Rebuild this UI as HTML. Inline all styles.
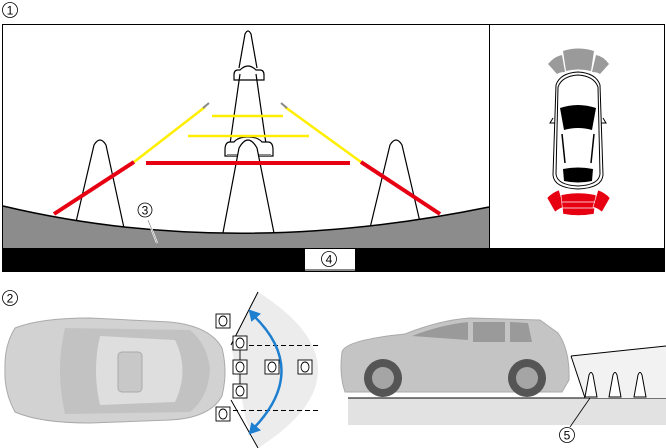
<!DOCTYPE html>
<html><head><style>
html,body{margin:0;padding:0;background:#fff;}
svg{display:block;font-family:"Liberation Sans",sans-serif;}
</style></head><body>
<svg width="666" height="448" viewBox="0 0 666 448" xmlns="http://www.w3.org/2000/svg">
<circle cx="10" cy="10" r="7.5" fill="#fff" stroke="#000" stroke-width="0.8"/>
<text x="10" y="14.5" font-size="12" text-anchor="middle">1</text>
<rect x="2.5" y="24.5" width="662" height="247" fill="#fff" stroke="#000" stroke-width="1"/>
<line x1="489.5" y1="24" x2="489.5" y2="248" stroke="#000" stroke-width="1"/>
<path d="M239,68 L245,34 Q248,28 251,34 L257,68" fill="none" stroke="#000" stroke-width="1.2"/>
<path d="M238,70 Q234,70 234,75 L234,80 L264,80 L264,75 Q264,70 260,70 L256,70 Q252,66 248,66 Q244,66 240,70 Z" fill="#fff" stroke="#000" stroke-width="1.2"/>
<path d="M240,74 L230,144 M256,74 L266,144" stroke="#000" stroke-width="1.2" fill="none"/>
<path d="M230,142 Q225,142 225,150 L225,156 L273,156 L273,150 Q273,142 268,142 L262,142 Q258,137 248,137 Q238,137 234,142 Z" fill="#fff" stroke="#000" stroke-width="1.2"/>
<line x1="227" y1="155" x2="271" y2="155" stroke="#888" stroke-width="2"/>
<path d="M222,238 L239,148 Q248,132 257,148 L275,238" fill="#fff" stroke="#000" stroke-width="1.2"/>
<path d="M76,222 L94,145 Q100,135 106,145 L124,228" fill="#fff" stroke="#000" stroke-width="1.2"/>
<path d="M370,228 L390,145 Q396,135 402,145 L420,222" fill="#fff" stroke="#000" stroke-width="1.2"/>
<line x1="212" y1="116" x2="283" y2="116" stroke="#ffee00" stroke-width="2.5"/>
<line x1="188" y1="136" x2="309" y2="136" stroke="#ffee00" stroke-width="2.5"/>
<line x1="146" y1="163" x2="350" y2="163" stroke="#e60012" stroke-width="4"/>
<line x1="205" y1="107" x2="134" y2="162" stroke="#ffee00" stroke-width="2.5"/>
<line x1="285" y1="107" x2="361" y2="162" stroke="#ffee00" stroke-width="2.5"/>
<line x1="209" y1="103" x2="203" y2="108" stroke="#888" stroke-width="2"/>
<line x1="281" y1="103" x2="287" y2="108" stroke="#888" stroke-width="2"/>
<line x1="134" y1="162" x2="54" y2="214" stroke="#e60012" stroke-width="4"/>
<line x1="361" y1="162" x2="440" y2="214" stroke="#e60012" stroke-width="4"/>
<path d="M3,206 Q230,260 489,207 L489,248 L3,248 Z" fill="#8c8c8c" stroke="none"/>
<path d="M3,206 Q230,260 489,207" fill="none" stroke="#000" stroke-width="1.5"/>
<line x1="148" y1="220" x2="157" y2="243" stroke="#fff" stroke-width="2"/>
<line x1="148" y1="220" x2="157" y2="243" stroke="#555" stroke-width="0.5"/>
<circle cx="145" cy="210" r="7" fill="#fff" stroke="#000" stroke-width="0.8"/>
<text x="145" y="214.5" font-size="12" text-anchor="middle">3</text>
<rect x="3" y="248" width="662" height="23" fill="#000"/>
<rect x="305" y="249" width="50" height="21" fill="#fff"/>
<line x1="305" y1="270" x2="355" y2="270" stroke="#888" stroke-width="2"/>
<circle cx="329" cy="259" r="7.5" fill="#fff" stroke="#000" stroke-width="0.8"/>
<text x="329" y="263.5" font-size="12" text-anchor="middle">4</text>
<g fill="#9a9a9a">
<path d="M548,64 Q555,56 562,55 L565,72 Q560,72 557,74 Z"/>
<path d="M563,51 Q578,46 594,51 L591,71 Q578,68 566,71 Z"/>
<path d="M596,55 Q603,56 609,64 L600,74 Q597,72 592,72 Z"/>
</g>
<g fill="none" stroke="#000" stroke-width="1">
<path d="M556,85 Q560,73 578,72 Q596,73 600,85 L603,175 Q602,188 578,189 Q554,188 553,175 Z" fill="#fff"/>
<path d="M558,87 Q562,76 578,75 Q594,76 598,87 L600,174 Q599,185 578,186 Q557,185 556,174 Z"/>
</g>
<path d="M560,108 Q578,102 596,108 L592,130 Q578,126 564,130 Z" fill="#000"/>
<path d="M563,169 Q578,166 593,169 L592,181 Q578,184 564,181 Z" fill="#000"/>
<path d="M562,134 L565,163 M594,134 L591,163" stroke="#000" stroke-width="1.5"/>
<path d="M553,118 L550,123 L555,123 M603,118 L606,123 L601,123" stroke="#000" fill="none"/>
<g fill="#e60012" stroke="#fff" stroke-width="0.6">
<path d="M547,198 Q551,193 559,190 L564,207 Q560,208 555,212 Z"/>
<path d="M561,195 Q578,191 596,195 L594,214 Q578,217 563,214 Z"/>
<path d="M598,190 Q606,193 610,198 L602,212 Q597,208 593,207 Z"/>
</g>
<g stroke="#fff" stroke-width="0.8"><line x1="562" y1="202" x2="595" y2="202"/><line x1="562" y1="208" x2="595" y2="208"/></g>
<circle cx="10" cy="298" r="7.5" fill="#fff" stroke="#000" stroke-width="0.8"/>
<text x="10" y="302.5" font-size="12" text-anchor="middle">2</text>
<path d="M258,292 Q318,330 318,370 Q318,410 258,448 L246,420 L231,345 Z" fill="#ececec"/>
<line x1="258" y1="292" x2="231" y2="345" stroke="#000"/>
<line x1="231" y1="400" x2="258" y2="448" stroke="#000"/>
<line x1="233" y1="345.5" x2="318" y2="345.5" stroke="#000" stroke-dasharray="5,3"/>
<line x1="233" y1="410.5" x2="318" y2="410.5" stroke="#000" stroke-dasharray="5,3"/>
<path d="M253,315 Q310,370 253,429" fill="none" stroke="#1e7fd0" stroke-width="2.5"/>
<path d="M250,311 L259,314 L252,320 Z M250,433 L259,430 L252,424 Z" fill="#1e7fd0" stroke="#1e7fd0" stroke-width="2"/>
<path d="M15,328 Q40,318 90,318 L170,322 Q210,326 222,348 Q228,372 222,396 Q210,418 170,420 L90,423 Q40,423 15,412 Q4,392 5,370 Q4,346 15,328 Z" fill="#d2d2d2" stroke="#aaa"/>
<path d="M65,328 L190,330 Q208,345 210,370 Q208,398 190,412 L65,414 Q55,370 65,328 Z" fill="#c2c2c2"/>
<path d="M100,336 L175,340 Q190,370 175,402 L100,405 Q92,370 100,336 Z" fill="#dedede"/>
<rect x="118" y="352" width="24" height="40" rx="4" fill="#c8c8c8" stroke="#aaa"/>
<g fill="#fff" stroke="#000" stroke-width="0.9">
<line x1="240" y1="350" x2="240" y2="398"/>
<rect x="216" y="314" width="14" height="14"/><rect x="233" y="336" width="14" height="14"/>
<rect x="233" y="360" width="14" height="14"/><rect x="233" y="384" width="14" height="14"/>
<rect x="216" y="407" width="14" height="14"/><rect x="265" y="360" width="14" height="14"/>
<rect x="298" y="360" width="14" height="14"/>
<ellipse cx="223" cy="321" rx="4" ry="5"/><ellipse cx="240" cy="343" rx="4" ry="5"/>
<ellipse cx="240" cy="367" rx="4" ry="5"/><ellipse cx="240" cy="391" rx="4" ry="5"/>
<ellipse cx="223" cy="414" rx="4" ry="5"/><ellipse cx="272" cy="367" rx="4" ry="5"/>
<ellipse cx="305" cy="367" rx="4" ry="5"/>
</g>
<rect x="348" y="398" width="318" height="27" fill="#e2e2e2"/>
<line x1="348" y1="398" x2="666" y2="398" stroke="#000"/>
<path d="M571,356 L666,346 L666,398 L585,398 Z" fill="#f2f2f2"/>
<line x1="571" y1="356" x2="666" y2="346" stroke="#000"/>
<line x1="571" y1="356" x2="585" y2="398" stroke="#000"/>
<path d="M342,352 Q345,340 405,334 Q440,320 470,318 L540,320 L558,333 Q570,350 569,380 L562,392 L345,392 Q339,375 342,352 Z" fill="#c4c4c4" stroke="#aaa"/>
<path d="M412,336 Q440,325 468,322 L468,340 Z M473,322 L505,322 L505,342 L473,342 Z M510,322 L528,323 L532,342 L510,342 Z" fill="#9a9a9a"/>
<circle cx="383" cy="378" r="19" fill="#555"/><circle cx="383" cy="378" r="11" fill="#a5a5a5"/>
<circle cx="527" cy="378" r="19" fill="#555"/><circle cx="527" cy="378" r="11" fill="#a5a5a5"/>
<g fill="#fff" stroke="#000" stroke-width="1">
<path d="M585,397 L589,375 Q591,370 593,375 L597,397 Z"/>
<path d="M609,397 L613,375 Q615,370 617,375 L621,397 Z"/>
<path d="M634,397 L638,375 Q640,370 642,375 L646,397 Z"/>
</g>
<line x1="590" y1="398" x2="570" y2="427" stroke="#000" stroke-width="0.8"/>
<circle cx="567" cy="435" r="7.5" fill="#fff" stroke="#000" stroke-width="0.8"/>
<text x="567" y="439.5" font-size="12" text-anchor="middle">5</text>
</svg>
</body></html>
